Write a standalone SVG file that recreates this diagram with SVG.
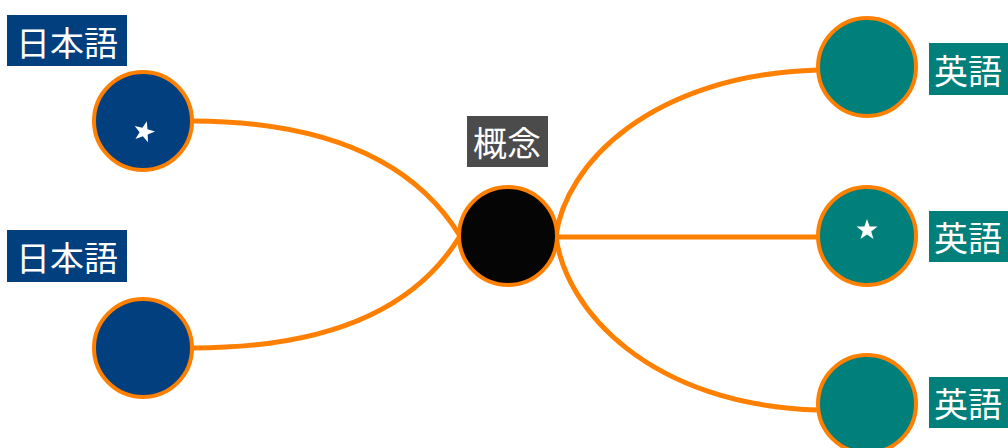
<svg xmlns="http://www.w3.org/2000/svg" width="1008" height="448" viewBox="0 0 1008 448">
<defs>
<style>
.link{fill:none;stroke:#ff8000;stroke-width:5}
.node{stroke:#ff8000;stroke-width:4}
.ja{fill:#013f7f}
.en{fill:#007f7b}
.root{fill:#050505}
.lbl{font-family:"Noto Sans CJK JP","Noto Sans",sans-serif;font-size:34px;fill:#ffffff;dominant-baseline:central}
.star{fill:#ffffff}
</style>
<polygon id="star" points="0,-11 2.6,-3.6 10.5,-3.4 4.2,1.4 6.5,8.9 0,4.4 -6.5,8.9 -4.2,1.4 -10.5,-3.4 -2.6,-3.6"/>
</defs>
<rect width="1008" height="448" fill="#ffffff"/>
<g id="connectors">
<path class="link" d="M193,121 Q390,122 460,236"/>
<path class="link" d="M193,348 Q392,348 460,236"/>
<path class="link" d="M556,236 C565,165 650,75 818,70"/>
<path class="link" d="M556,237 L818,237"/>
<path class="link" d="M556,236 C565,310 650,405 818,410"/>
</g>
<g id="root">
<circle class="node root" cx="508" cy="236" r="49"/>
<rect x="467" y="116" width="81" height="51" fill="#4b4b4b"/>
<text class="lbl" x="507" y="141" text-anchor="middle">概念</text>
</g>
<g id="ja1">
<circle class="node ja" cx="143" cy="121" r="49"/>
<use href="#star" class="star" transform="translate(144,132) rotate(15)"/>
<rect x="7" y="15" width="120" height="51" class="ja"/>
<text class="lbl" x="67" y="41" text-anchor="middle">日本語</text>
</g>
<g id="ja2">
<circle class="node ja" cx="143" cy="348" r="49"/>
<rect x="7" y="230" width="120" height="52" class="ja"/>
<text class="lbl" x="67" y="256" text-anchor="middle">日本語</text>
</g>
<g id="en1">
<circle class="node en" cx="867" cy="67" r="49"/>
<rect x="929" y="43" width="90" height="52" class="en"/>
<text class="lbl" x="934" y="69">英語</text>
</g>
<g id="en2">
<circle class="node en" cx="867" cy="236" r="49"/>
<use href="#star" class="star" transform="translate(867,230)"/>
<rect x="929" y="211" width="90" height="51" class="en"/>
<text class="lbl" x="934" y="236">英語</text>
</g>
<g id="en3">
<circle class="node en" cx="867" cy="404" r="49"/>
<rect x="929" y="377" width="90" height="51" class="en"/>
<text class="lbl" x="934" y="402">英語</text>
</g>
</svg>
